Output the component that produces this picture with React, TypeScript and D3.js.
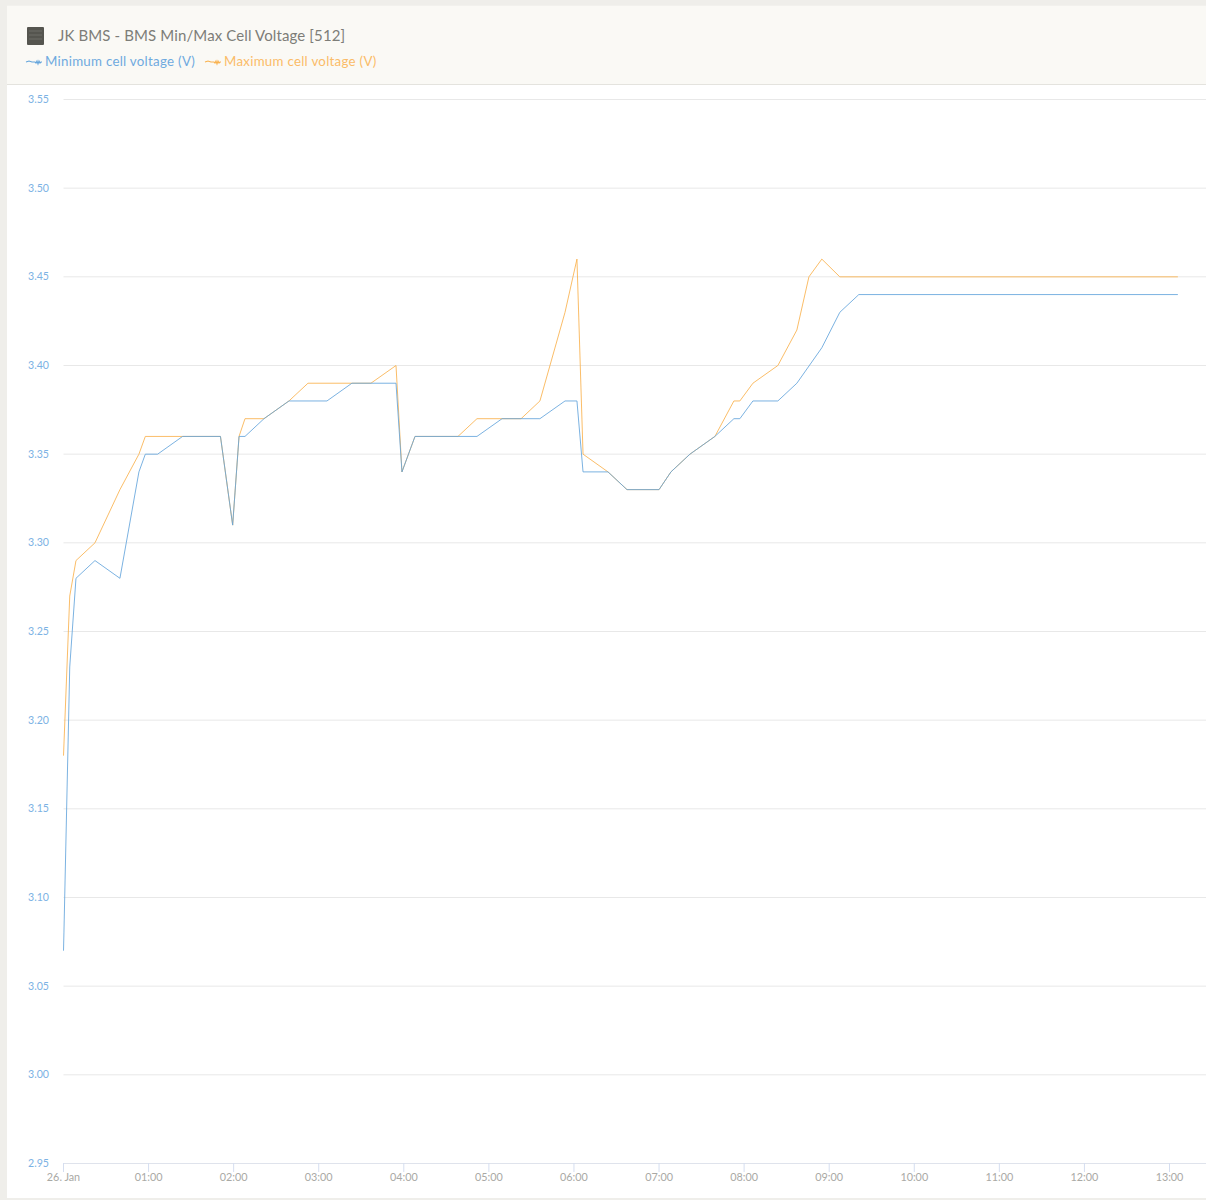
import React from "react";
import * as d3 from "d3";

const title = "JK BMS - BMS Min/Max Cell Voltage [512]";
const minLabel = "Minimum cell voltage (V)";
const maxLabel = "Maximum cell voltage (V)";

// minutes after midnight, 26 Jan
const minTimes = [0, 0.3, 4.4, 8.8, 22.2, 39.8, 53.2, 57.7, 66.4, 84, 110.7, 119.3, 123.8, 128, 141.4, 159, 185.8, 203.4, 234.5, 238.7, 247.9, 291.6, 309.3, 336, 353.7, 362.1, 366.4, 384, 397.4, 420, 428.4, 441.8, 459.4, 472.8, 477, 486.2, 503.8, 517.2, 534.8, 547.5, 560.9, 785.9];
const minValues = [3.07, 3.08, 3.23, 3.28, 3.29, 3.28, 3.34, 3.35, 3.35, 3.36, 3.36, 3.31, 3.36, 3.36, 3.37, 3.38, 3.38, 3.39, 3.39, 3.34, 3.36, 3.36, 3.37, 3.37, 3.38, 3.38, 3.34, 3.34, 3.33, 3.33, 3.34, 3.35, 3.36, 3.37, 3.37, 3.38, 3.38, 3.39, 3.41, 3.43, 3.44, 3.44];

const maxTimes = [0, 4.4, 8.8, 22.2, 39.8, 53.2, 57.7, 110.7, 119.3, 123.8, 128, 141.4, 159, 172.4, 216.8, 234.5, 238.7, 247.9, 278.2, 291.6, 322.7, 336, 353.7, 362.1, 366.4, 384, 397.4, 420, 428.4, 441.8, 459.4, 472.8, 477, 486.2, 503.8, 517.2, 525.7, 534.8, 547.5, 785.9];
const maxValues = [3.18, 3.27, 3.29, 3.30, 3.33, 3.35, 3.36, 3.36, 3.31, 3.36, 3.37, 3.37, 3.38, 3.39, 3.39, 3.40, 3.34, 3.36, 3.36, 3.37, 3.37, 3.38, 3.43, 3.46, 3.35, 3.34, 3.33, 3.33, 3.34, 3.35, 3.36, 3.38, 3.38, 3.39, 3.40, 3.42, 3.45, 3.46, 3.45, 3.45];

const yTicks = [2.95, 3.0, 3.05, 3.1, 3.15, 3.2, 3.25, 3.3, 3.35, 3.4, 3.45, 3.5, 3.55];
const xTickHours = [0, 1, 2, 3, 4, 5, 6, 7, 8, 9, 10, 11, 12, 13];
const xTickLabels = ["26. Jan", "01:00", "02:00", "03:00", "04:00", "05:00", "06:00", "07:00", "08:00", "09:00", "10:00", "11:00", "12:00", "13:00"];

const BLUE = "#64a5dc";
const ORANGE = "#f9b24e";
const FONT = "Lato, 'Open Sans', sans-serif";

const x = d3.scaleLinear().domain([0, 780]).range([63.5, 1169.5]);
const y = d3.scaleLinear().domain([2.95, 3.55]).range([1163.5, 99.5]);
const line = d3
  .line<[number, number]>()
  .x((d) => x(d[0]))
  .y((d) => y(d[1]));

const minPoints = minTimes.map((t, i) => [t, minValues[i]] as [number, number]);
const maxPoints = maxTimes.map((t, i) => [t, maxValues[i]] as [number, number]);

function LegendIcon({ px, color }: { px: number; color: string }) {
  const d = `M${px} 62 l3 -1 l3 1 l3 0 l1 1 l1 -2 l1 3 l1 -3 l1 2 l1 -1 l1 0`;
  return <path d={d} fill="none" stroke={color} strokeWidth={1.1} />;
}

export default function App() {
  return (
    <svg
      width={1206}
      height={1200}
      style={{ position: "absolute", left: 0, top: 0, display: "block", fontFamily: FONT }}
    >
      <rect x={0} y={0} width={1206} height={1200} fill="#efeeea" />
      <rect x={7} y={5} width={1199} height={1193} fill="#ffffff" />
      <rect x={7} y={6} width={1199} height={78} fill="#faf9f5" />
      <line x1={7} x2={1206} y1={84.5} y2={84.5} stroke="#e4e3de" />
      <line x1={7} x2={1206} y1={5.5} y2={5.5} stroke="#f2f1ed" />

      <rect x={27} y={27} width={17} height={18} rx={1} fill="#55554f" />
      <line x1={29} x2={42} y1={31} y2={31} stroke="#75756f" strokeWidth={0.8} />
      <line x1={29} x2={42} y1={35} y2={35} stroke="#75756f" strokeWidth={0.8} />
      <line x1={29} x2={42} y1={39} y2={39} stroke="#75756f" strokeWidth={0.8} />
      <text x={58} y={41} fontSize={15} fill="#7d7d78" letterSpacing={0.12}>
        {title}
      </text>

      <LegendIcon px={26} color={BLUE} />
      <text x={45} y={66} fontSize={13.3} fill="#6faadf" letterSpacing={0.27}>
        {minLabel}
      </text>
      <LegendIcon px={205} color={ORANGE} />
      <text x={224} y={66} fontSize={13.3} fill="#fbbc68" letterSpacing={0.27}>
        {maxLabel}
      </text>

      {yTicks.map((t) => (
        <g key={t}>
          {t > 2.95 && <line x1={63.5} x2={1206} y1={y(t)} y2={y(t)} stroke="#e8e8e8" strokeWidth={1} />}
          <text x={49} y={y(t) + 3.5} textAnchor="end" fontSize={10.6} fill="#7cb2e4">
            {t.toFixed(2)}
          </text>
        </g>
      ))}

      <line x1={63.5} x2={1206} y1={1163.5} y2={1163.5} stroke="#dfe3ec" />
      {xTickHours.map((h, i) => (
        <g key={h}>
          <line x1={x(h * 60)} x2={x(h * 60)} y1={1163} y2={1172} stroke="#d5def0" />
          <text x={x(h * 60)} y={1181} textAnchor="middle" fontSize={10.8} fill="#a9a9a5">
            {xTickLabels[i]}
          </text>
        </g>
      ))}

      <path d={line(maxPoints) ?? ""} fill="none" stroke={ORANGE} strokeWidth={1} opacity={0.85} />
      <path d={line(minPoints) ?? ""} fill="none" stroke={BLUE} strokeWidth={1} opacity={0.85} />
    </svg>
  );
}
